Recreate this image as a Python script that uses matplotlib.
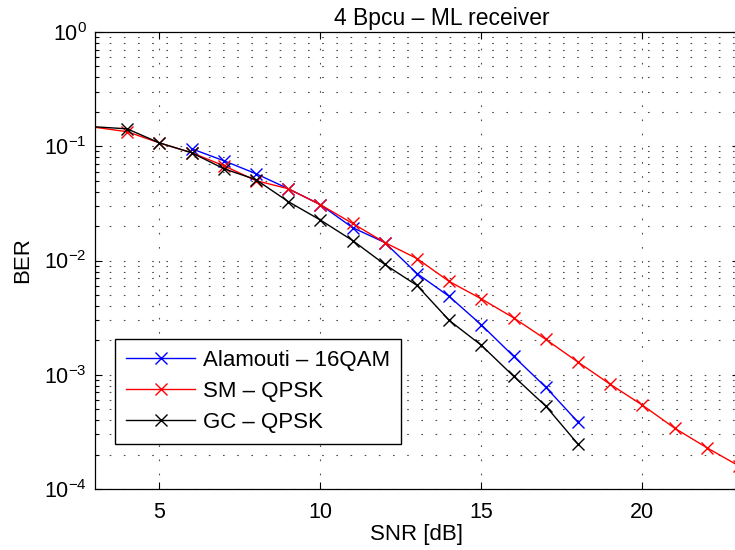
import matplotlib
matplotlib.use("Agg")
import matplotlib.pyplot as plt
from matplotlib.ticker import LogLocator, FixedLocator, NullFormatter

plt.rcParams['font.family'] = ['Liberation Sans', 'DejaVu Sans']
plt.rcParams['lines.scale_dashes'] = False

# Data (SNR in dB, BER)
snr_ala = [6, 7, 8, 9, 10, 11, 12, 13, 14, 15, 16, 17, 18]
ber_ala = [0.0951, 0.0747, 0.0575, 0.0425, 0.0308, 0.0194, 0.01437, 0.00769,
           0.00485, 0.00273, 0.00145, 0.000778, 0.000385]

snr_sm = [3, 4, 5, 6, 7, 8, 9, 10, 11, 12, 13, 14, 15, 16, 17, 18, 19, 20, 21, 22, 23]
ber_sm = [0.1466, 0.134, 0.107, 0.0878, 0.0676, 0.050, 0.0425, 0.0308, 0.0211,
          0.01437, 0.0104, 0.00656, 0.00461, 0.00315, 0.00204, 0.00129,
          0.000826, 0.000542, 0.000341, 0.000230, 0.000159]

snr_gc = [3, 4, 5, 6, 7, 8, 9, 10, 11, 12, 13, 14, 15, 16, 17, 18]
ber_gc = [0.148, 0.142, 0.107, 0.0878, 0.0636, 0.0510, 0.0328, 0.0226, 0.01496,
          0.00923, 0.00605, 0.00299, 0.00181, 0.00097, 0.000531, 0.000247]

labels = ['Alamouti \u2013 16QAM', 'SM \u2013 QPSK', 'GC \u2013 QPSK']
title = '4 Bpcu \u2013 ML receiver'
xlabel = 'SNR [dB]'
ylabel = 'BER'
xticks = [5, 10, 15, 20]

fig = plt.figure(figsize=(7.35, 5.5), dpi=100)
W, H = 735, 550
left, right, top, bottom = 95, 739, 32, 489
ax = fig.add_axes([left / W, (H - bottom) / H, (right - left) / W, (bottom - top) / H])

ax.set_yscale('log')
ax.set_xlim(3, 23)
ax.set_ylim(1e-4, 1)

kw = dict(marker='x', markersize=8, markeredgewidth=1.0, linewidth=1.0)
ax.plot(snr_ala, ber_ala, color='#0000ff', label=labels[0], **kw)
ax.plot(snr_sm, ber_sm, color='#ff0000', label=labels[1], markevery=slice(1, None), **kw)
ax.plot(snr_gc, ber_gc, color='#000000', label=labels[2], markevery=slice(1, None), **kw)

ax.xaxis.set_major_locator(FixedLocator(xticks))
ax.yaxis.set_major_locator(LogLocator(base=10, numticks=10))
ax.yaxis.set_minor_locator(LogLocator(base=10, subs=range(2, 10), numticks=20))
ax.yaxis.set_minor_formatter(NullFormatter())

grid_ls = (0, (1.2, 9.0))
ax.grid(True, which='major', axis='both', linestyle=grid_ls, color='0.3', linewidth=0.8)
ax.grid(True, which='minor', axis='y', linestyle=grid_ls, color='0.3', linewidth=0.8)
ax.set_axisbelow(True)

ax.tick_params(axis='both', which='both', direction='in', top=True, right=True, width=0.8)
ax.tick_params(axis='both', which='major', length=5, labelsize=15.5)
ax.tick_params(axis='y', which='minor', length=3)
ax.tick_params(axis='x', which='major', pad=9)
ax.tick_params(axis='y', which='major', pad=6)

for s in ax.spines.values():
    s.set_linewidth(0.9)
    s.set_color('black')

ax.set_xlabel(xlabel, fontsize=16, labelpad=1)
ax.set_ylabel(ylabel, fontsize=16, labelpad=8)
ax.set_title(title, fontsize=16.5, pad=5, x=(442 - left) / (right - left))

leg = ax.legend(loc='lower left', bbox_to_anchor=((115 - left) / (right - left), (bottom - 444) / (bottom - top)),
                borderaxespad=0, fontsize=16, frameon=True, fancybox=False,
                handlelength=3.1, handletextpad=0.35, borderpad=0.5, labelspacing=0.45)
leg.get_frame().set_edgecolor('black')
leg.get_frame().set_linewidth(1.0)
leg.get_frame().set_alpha(1)

fig.savefig('out.png', dpi=100)
